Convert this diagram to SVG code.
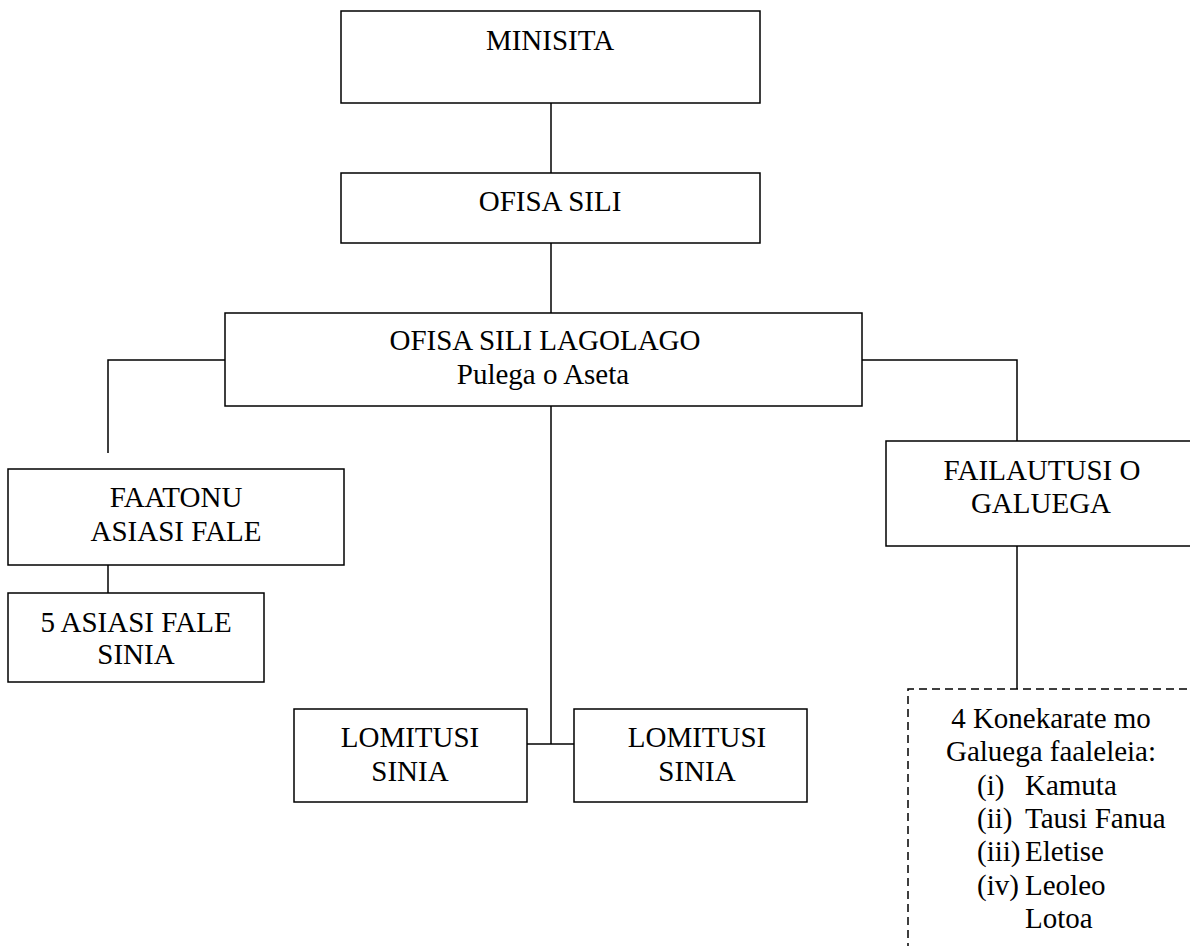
<svg xmlns="http://www.w3.org/2000/svg" width="1190" height="946" viewBox="0 0 1190 946">
<style>
.box{fill:#fff;stroke:#000;stroke-width:1.5}
.dash{fill:none;stroke:#000;stroke-width:1.5;stroke-dasharray:8 5}
.ln{fill:none;stroke:#000;stroke-width:1.5}
text{font-family:"Liberation Serif","Times New Roman",serif;font-size:29px;fill:#000}
.c{text-anchor:middle}
</style>
<rect width="1190" height="946" fill="#fff"/>
<g id="connectors">
<line class="ln" x1="551" y1="103" x2="551" y2="173"/>
<line class="ln" x1="551" y1="243" x2="551" y2="313"/>
<polyline class="ln" points="225,360 108,360 108,453"/>
<polyline class="ln" points="862,360 1017,360 1017,441"/>
<line class="ln" x1="108" y1="565" x2="108" y2="593"/>
<line class="ln" x1="551" y1="406" x2="551" y2="744"/>
<line class="ln" x1="527" y1="744" x2="574" y2="744"/>
<line class="ln" x1="1017" y1="546" x2="1017" y2="689"/>
</g>
<g id="minisita">
<rect class="box" x="341" y="11" width="419" height="92"/>
<text class="c" x="550" y="50">MINISITA</text>
</g>
<g id="ofisa-sili">
<rect class="box" x="341" y="173" width="419" height="70"/>
<text class="c" x="550" y="211">OFISA SILI</text>
</g>
<g id="ofisa-sili-lagolago">
<rect class="box" x="225" y="313" width="637" height="93"/>
<text class="c" x="545" y="350">OFISA SILI LAGOLAGO</text>
<text class="c" x="543" y="384">Pulega o Aseta</text>
</g>
<g id="faatonu">
<rect class="box" x="8" y="469" width="336" height="96"/>
<text class="c" x="176" y="507">FAATONU</text>
<text class="c" x="176" y="541">ASIASI FALE</text>
</g>
<g id="asiasi-fale">
<rect class="box" x="8" y="593" width="256" height="89"/>
<text class="c" x="136" y="632">5 ASIASI FALE</text>
<text class="c" x="136" y="664">SINIA</text>
</g>
<g id="failautusi">
<rect class="box" x="886" y="441" width="320" height="105"/>
<text class="c" x="1042" y="480">FAILAUTUSI O</text>
<text class="c" x="1041" y="513">GALUEGA</text>
</g>
<g id="lomitusi-1">
<rect class="box" x="294" y="709" width="233" height="93"/>
<text class="c" x="410" y="747">LOMITUSI</text>
<text class="c" x="410" y="781">SINIA</text>
</g>
<g id="lomitusi-2">
<rect class="box" x="574" y="709" width="233" height="93"/>
<text class="c" x="697" y="747">LOMITUSI</text>
<text class="c" x="697" y="781">SINIA</text>
</g>
<g id="konekarate">
<polyline class="dash" points="1200,689 908,689 908,950"/>
<text class="c" x="1051" y="728">4 Konekarate mo</text>
<text class="c" x="1051" y="761">Galuega faaleleia:</text>
<text x="977" y="795">(i)</text><text x="1025" y="795">Kamuta</text>
<text x="977" y="828">(ii)</text><text x="1025" y="828">Tausi Fanua</text>
<text x="977" y="861">(iii)</text><text x="1025" y="861">Eletise</text>
<text x="977" y="895">(iv)</text><text x="1025" y="895">Leoleo</text>
<text x="1025" y="928">Lotoa</text>
</g>
</svg>
